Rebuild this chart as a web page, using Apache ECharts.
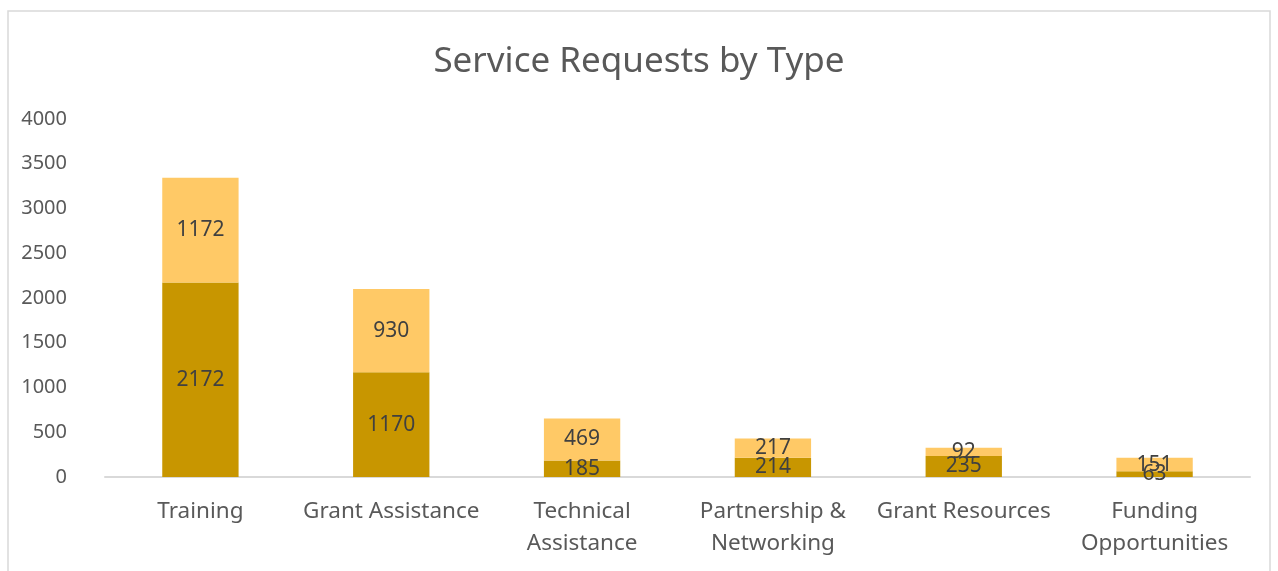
<!DOCTYPE html>
<html>
<head>
<meta charset="utf-8">
<script src="https://cdn.jsdelivr.net/npm/echarts@6/dist/echarts.min.js"></script>
<style>
  html, body { margin: 0; padding: 0; background: #fff; }
  #chart { width: 1278px; height: 571px; }
</style>
</head>
<body>
<div id="chart"></div>
<script>
// data
var categories = ['Training', 'Grant Assistance', 'Technical\nAssistance', 'Partnership &\nNetworking', 'Grant Resources', 'Funding\nOpportunities'];
var baseValues = [2172, 1170, 185, 214, 235, 63];
var topValues = [1172, 930, 469, 217, 92, 151];
var yTicks = [0, 500, 1000, 1500, 2000, 2500, 3000, 3500, 4000];

var textColor = '#595959';
var fontName = 'Noto Sans';

var chart = echarts.init(document.getElementById('chart'));

var option = {
  animation: false,
  backgroundColor: '#fff',
  title: {
    text: 'Service Requests by Type',
    left: 'center',
    top: 40,
    textStyle: {
      color: textColor,
      fontFamily: fontName,
      fontWeight: 'normal',
      fontSize: 35
    }
  },
  graphic: [{
    type: 'rect',
    shape: { x: 8, y: 11, width: 1262, height: 580 },
    style: { fill: 'none', stroke: '#d9d9d9', lineWidth: 1.5 },
    silent: true
  }],
  grid: { left: 105, right: 28, top: 119, bottom: 94 },
  xAxis: {
    type: 'category',
    data: categories,
    axisLine: { lineStyle: { color: '#d9d9d9', width: 2 } },
    axisTick: { show: false },
    axisLabel: {
      color: textColor,
      fontFamily: fontName,
      fontSize: 22.5,
      lineHeight: 32,
      margin: 19,
      interval: 0
    }
  },
  yAxis: {
    type: 'value',
    min: yTicks[0],
    max: yTicks[yTicks.length - 1],
    interval: yTicks[1] - yTicks[0],
    splitLine: { show: false },
    axisLine: { show: false },
    axisTick: { show: false },
    axisLabel: {
      color: textColor,
      fontFamily: fontName,
      fontSize: 20,
      margin: 38,
      formatter: function (v) { return String(v); }
    }
  },
  series: [{
    type: 'bar',
    stack: 'total',
    data: baseValues,
    barWidth: '40%',
    itemStyle: { color: '#c89600' },
    label: {
      show: true,
      position: 'inside',
      color: '#404040',
      fontFamily: fontName,
      fontSize: 21
    }
  }, {
    type: 'bar',
    stack: 'total',
    data: topValues,
    barWidth: '40%',
    itemStyle: { color: '#ffc966' },
    label: {
      show: true,
      position: 'inside',
      color: '#404040',
      fontFamily: fontName,
      fontSize: 21
    }
  }]
};

chart.setOption(option);
</script>
</body>
</html>
